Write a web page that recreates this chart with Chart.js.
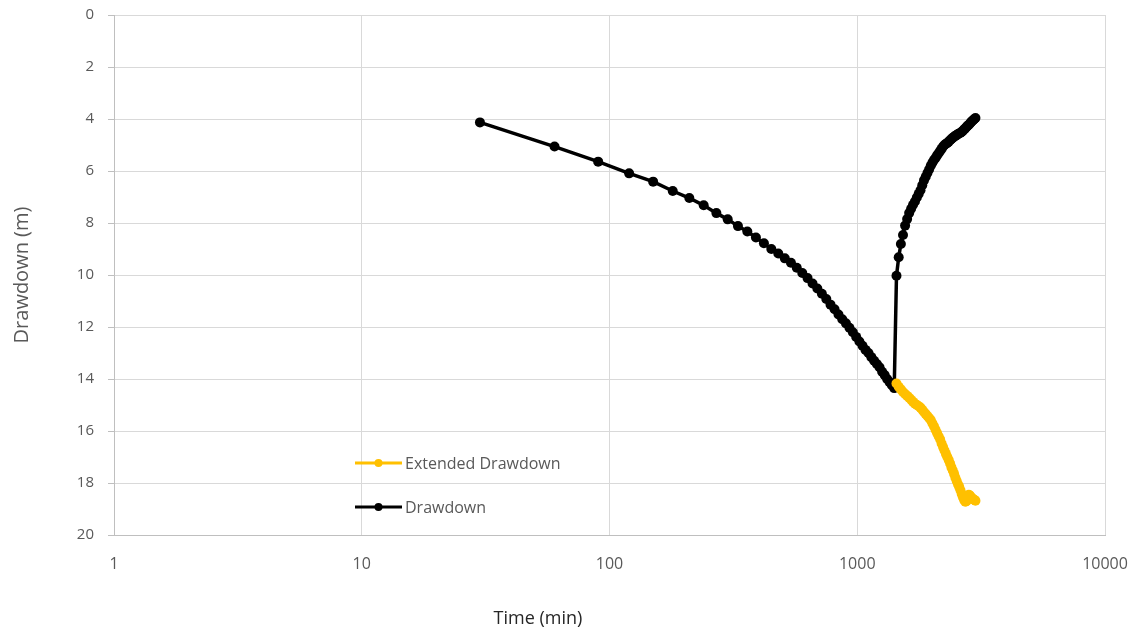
<!DOCTYPE html>
<html>
<head>
<meta charset="utf-8">
<script src="https://cdn.jsdelivr.net/npm/chart.js@4/dist/chart.umd.min.js"></script>
<style>
  html, body { margin: 0; padding: 0; background: #ffffff; }
  #wrap { width: 1133px; height: 633px; position: relative; }
</style>
</head>
<body>
<div id="wrap"><canvas id="drawdown-chart"></canvas></div>
<script>
// Pumping test data, time in minutes, drawdown in metres
const drawdownTime = [30,60,90,120,150,180,210,240,270,300,330,360,390,420,450,480,510,540,570,600,
  630,660,690,720,750,780,810,840,870,900,930,960,990,1020,1050,1080,1110,1140,1170,1200,
  1230,1260,1290,1320,1350,1380,1410,
  1440,1470,1500,1530,1560,1590,1620,1650,1680,1710,1740,1770,1800,1830,1860,1890,1920,1950,1980,2010,
  2040,2070,2100,2130,2160,2190,2220,2250,2280,2310,2340,2370,2400,2430,2460,2490,2520,2550,2580,2610,
  2640,2670,2700,2730,2760,2790,2820,2850,2880,2910,2940,2970,3000];
const drawdownValues = [4.13,5.06,5.64,6.09,6.41,6.77,7.04,7.32,7.62,7.86,8.12,8.33,8.56,8.78,9.00,9.17,9.36,9.53,9.72,9.92,
  10.12,10.33,10.52,10.72,10.92,11.14,11.32,11.52,11.70,11.86,12.03,12.20,12.38,12.56,12.72,12.88,13.00,13.16,13.30,13.42,
  13.55,13.72,13.85,14.00,14.12,14.24,14.35,
  10.03,9.32,8.81,8.46,8.10,7.85,7.62,7.45,7.30,7.17,7.02,6.88,6.74,6.55,6.36,6.22,6.08,5.94,5.80,5.68,
  5.58,5.50,5.40,5.32,5.23,5.15,5.06,5.00,4.95,4.92,4.87,4.82,4.77,4.72,4.68,4.64,4.62,4.58,4.56,4.53,
  4.50,4.45,4.40,4.36,4.31,4.26,4.22,4.17,4.12,4.08,4.04,4.00,3.96];

const extendedTime = [1440,1470,1500,1530,1560,1590,1620,1650,1680,1710,1740,1770,1800,1830,1860,1890,1920,1950,1980,2010,
  2040,2070,2100,2130,2160,2190,2220,2250,2280,2310,2340,2370,2400,2430,2460,2490,2520,2550,2580,2610,
  2640,2670,2700,2730,2760,2790,2820,2850,2880,2910,2940,2970,3000];
const extendedValues = [14.17,14.30,14.40,14.50,14.58,14.65,14.72,14.80,14.88,14.95,15.00,15.05,15.10,15.18,15.27,15.35,15.42,15.50,15.58,15.70,
  15.82,15.95,16.08,16.20,16.32,16.48,16.62,16.75,16.88,17.00,17.12,17.25,17.40,17.52,17.65,17.80,17.92,18.05,18.15,18.28,
  18.42,18.55,18.65,18.72,18.70,18.55,18.45,18.48,18.55,18.60,18.62,18.65,18.68];

const xTicks = [1, 10, 100, 1000, 10000];
const yTicks = [0, 2, 4, 6, 8, 10, 12, 14, 16, 18, 20];

const toPoints = (xs, ys) => xs.map((x, i) => ({ x: x, y: ys[i] }));

// legend drawn inside the plot, like the spreadsheet one
const insideLegend = {
  id: 'insideLegend',
  afterDraw(chart) {
    const ctx = chart.ctx;
    const rows = [463, 507];
    ctx.save();
    chart.data.datasets.forEach((ds, i) => {
      const y = rows[i];
      ctx.strokeStyle = ds.borderColor;
      ctx.lineWidth = 3;
      ctx.beginPath();
      ctx.moveTo(355, y);
      ctx.lineTo(402, y);
      ctx.stroke();
      ctx.fillStyle = ds.backgroundColor;
      ctx.beginPath();
      ctx.arc(378.5, y, 4, 0, Math.PI * 2);
      ctx.fill();
      ctx.fillStyle = '#595959';
      ctx.font = '16px "Open Sans", sans-serif';
      ctx.textAlign = 'left';
      ctx.textBaseline = 'middle';
      ctx.fillText(ds.label, 405, y + 1);
    });
    // x axis title sits left of centre in the original
    ctx.fillStyle = '#262626';
    ctx.font = '18px "Liberation Sans Narrow", "Open Sans", sans-serif';
    ctx.textAlign = 'center';
    ctx.fillText('Time (min)', 538, 619);
    ctx.restore();
  }
};

const ctx = document.getElementById('drawdown-chart').getContext('2d');
const drawdownChart = new Chart(ctx, {
  type: 'scatter',
  data: {
    datasets: [
      {
        label: 'Extended Drawdown',
        data: toPoints(extendedTime, extendedValues),
        showLine: true,
        borderColor: '#FFC000',
        backgroundColor: '#FFC000',
        borderWidth: 3.5,
        pointRadius: 5,
        pointBorderWidth: 0
      },
      {
        label: 'Drawdown',
        data: toPoints(drawdownTime, drawdownValues),
        showLine: true,
        borderColor: '#000000',
        backgroundColor: '#000000',
        borderWidth: 3.5,
        pointRadius: 5,
        pointBorderWidth: 0
      }
    ]
  },
  options: {
    responsive: true,
    maintainAspectRatio: false,
    animation: false,
    layout: { padding: { top: 15, right: 28, left: 0, bottom: 0 } },
    plugins: {
      legend: { display: false },
      tooltip: { enabled: false }
    },
    scales: {
      x: {
        type: 'logarithmic',
        min: 1,
        max: 10000,
        afterBuildTicks: (scale) => { scale.ticks = xTicks.map(v => ({ value: v })); },
        afterFit: (scale) => {
          scale.height = 98;
          scale.paddingLeft = 0;
          scale.paddingRight = 0;
        },
        grid: { color: '#d9d9d9', lineWidth: 1, tickLength: 0, drawTicks: false },
        border: { color: '#bfbfbf' },
        ticks: {
          color: '#595959',
          padding: 20,
          maxRotation: 0,
          font: { size: 16, family: '"Liberation Sans Narrow", "Open Sans", sans-serif' },
          callback: (v) => String(v)
        }
      },
      y: {
        reverse: true,
        min: 0,
        max: 20,
        afterBuildTicks: (scale) => { scale.ticks = yTicks.map(v => ({ value: v })); },
        afterFit: (scale) => {
          scale.width = 114;
          scale.paddingTop = 0;
          scale.paddingBottom = 0;
        },
        grid: { color: '#d9d9d9', lineWidth: 1, tickLength: 6, tickColor: '#bfbfbf' },
        border: { color: '#bfbfbf' },
        ticks: {
          color: '#595959',
          padding: 14,
          font: { size: 15, family: '"Open Sans", sans-serif' }
        },
        title: {
          display: true,
          text: 'Drawdown (m)',
          color: '#595959',
          padding: { top: 10, bottom: 0 },
          font: { size: 20, family: '"Open Sans", sans-serif' }
        }
      }
    }
  },
  plugins: [insideLegend]
});
</script>
</body>
</html>
